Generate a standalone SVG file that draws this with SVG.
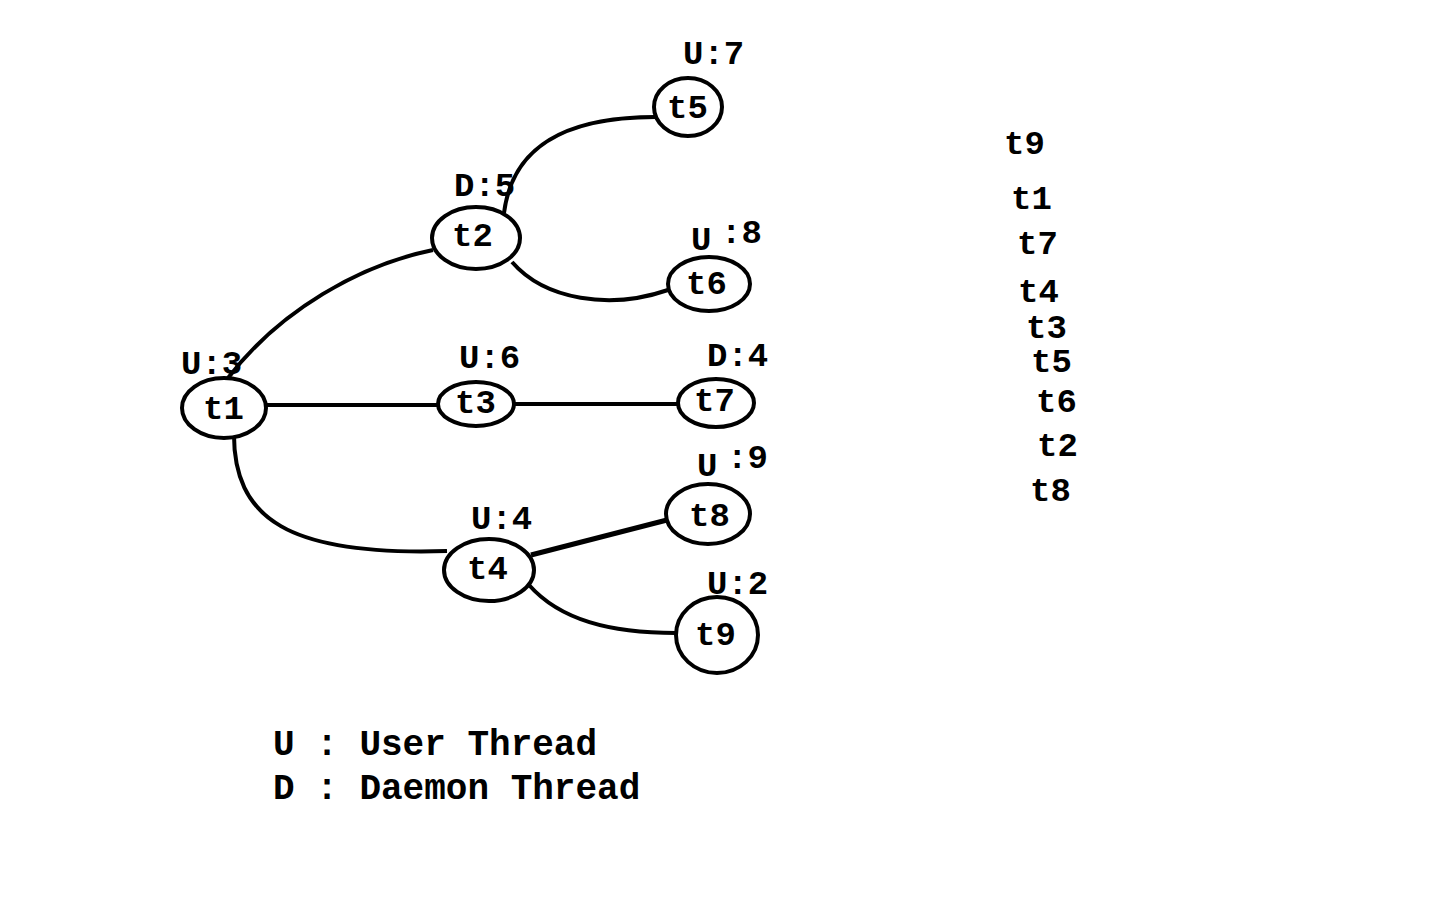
<svg xmlns="http://www.w3.org/2000/svg" width="1440" height="900" viewBox="0 0 1440 900">
<style>
.n{fill:#fff;stroke:#000;stroke-width:4}
.c{fill:none;stroke:#000;stroke-width:4}
text{font-family:"Liberation Mono","DejaVu Sans Mono",monospace;font-weight:bold;fill:#000;font-size:34px}
.lg{font-size:36px}
</style>
<rect width="1440" height="900" fill="#fff"/>
<g id="connectors">
<path class="c" d="M228,378 C280,310 360,265 433,250"/>
<path class="c" d="M504,213 C512,150 560,117 655,117"/>
<path class="c" d="M512,262 C545,300 610,310 668,290"/>
<path class="c" d="M267,405 L438,405"/>
<path class="c" d="M515,404 L678,404"/>
<path class="c" d="M234,430 C232,520 290,556 447,551"/>
<path class="c" d="M531,555 L667,520" style="stroke-width:5"/>
<path class="c" d="M529,585 C560,620 610,633 676,633"/>
</g>
<g id="t1"><ellipse class="n" cx="224" cy="408" rx="42" ry="30"/><text x="203" y="419">t1</text><text x="181" y="374">U:3</text></g>
<g id="t2"><ellipse class="n" cx="476" cy="238" rx="44" ry="31"/><text x="452" y="246">t2</text><text x="454" y="196">D:5</text></g>
<g id="t3"><ellipse class="n" cx="476" cy="404" rx="38" ry="22"/><text x="455" y="413">t3</text><text x="459" y="368">U:6</text></g>
<g id="t4"><ellipse class="n" cx="489" cy="570" rx="45" ry="31"/><text x="467" y="579">t4</text><text x="471" y="529">U:4</text></g>
<g id="t5"><ellipse class="n" cx="688" cy="107" rx="34" ry="29"/><text x="667" y="118">t5</text><text x="683" y="64">U:7</text></g>
<g id="t6"><ellipse class="n" cx="709" cy="284" rx="41" ry="27"/><text x="686" y="294">t6</text><text x="691" y="250">U</text><text x="721" y="243">:8</text></g>
<g id="t7"><ellipse class="n" cx="716" cy="403" rx="38" ry="24"/><text x="694" y="411">t7</text><text x="707" y="366">D:4</text></g>
<g id="t8"><ellipse class="n" cx="708" cy="514" rx="42" ry="30"/><text x="689" y="526">t8</text><text x="697" y="476">U</text><text x="727" y="468">:9</text></g>
<g id="t9"><ellipse class="n" cx="717" cy="635" rx="41" ry="38"/><text x="695" y="645">t9</text><text x="707" y="594">U:2</text></g>
<g id="order">
<text x="1004" y="154">t9</text>
<text x="1011" y="209">t1</text>
<text x="1017" y="254">t7</text>
<text x="1018" y="302">t4</text>
<text x="1026" y="338">t3</text>
<text x="1031" y="372">t5</text>
<text x="1036" y="412">t6</text>
<text x="1037" y="456">t2</text>
<text x="1030" y="501">t8</text>
</g>
<g id="legend">
<text class="lg" x="273" y="755" xml:space="preserve">U : User Thread</text>
<text class="lg" x="273" y="799" xml:space="preserve">D : Daemon Thread</text>
</g>
</svg>
